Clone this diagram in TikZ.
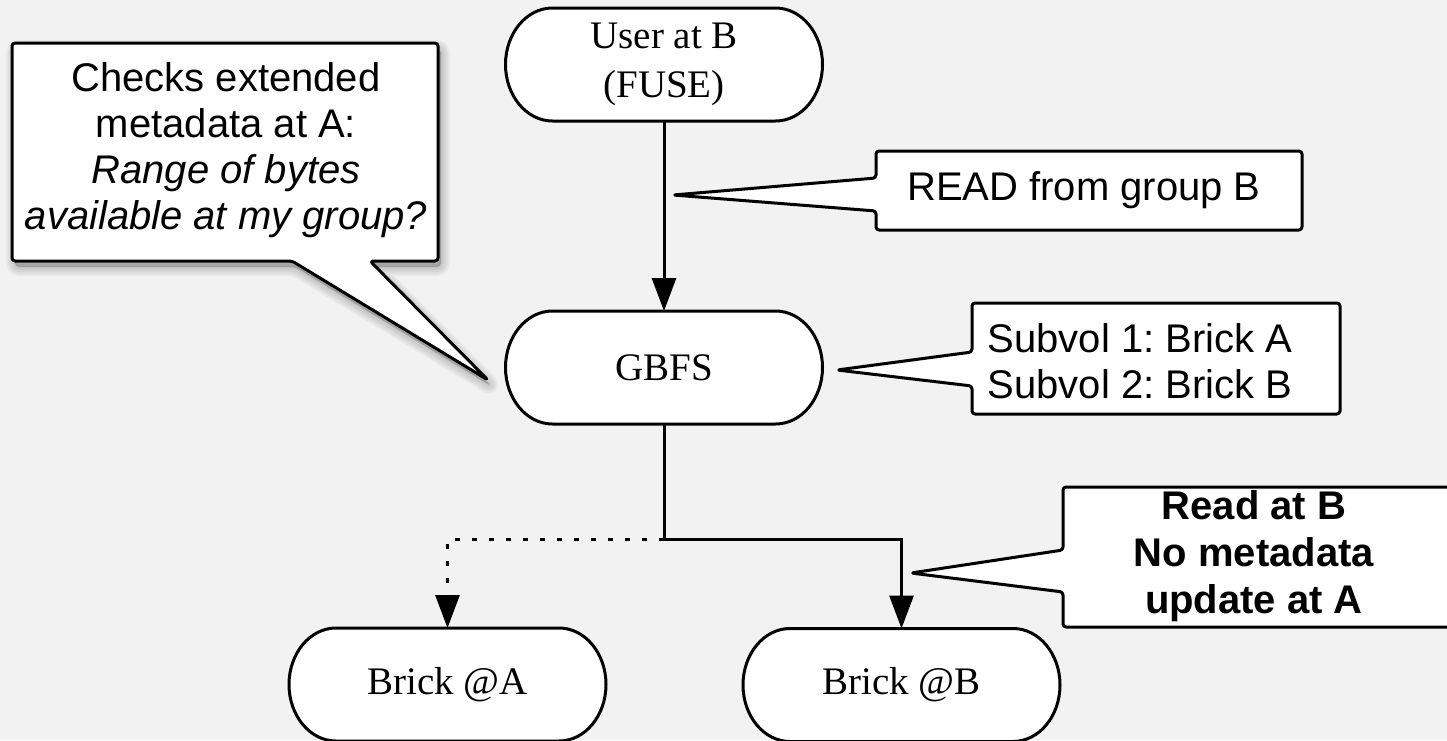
\documentclass[tikz,border=0pt]{standalone}
\usepackage{fontspec}
\setmainfont{Liberation Serif}
\newfontfamily\sansfont{Liberation Sans}
\usetikzlibrary{arrows.meta}
\pgfdeclarelayer{backdrop}
\pgfdeclarelayer{shapes}
\pgfsetlayers{backdrop,shapes,main}
\frenchspacing

\tikzset{
  conn/.style={line width=1.5pt, draw=black},
  arrowed/.style={conn, -{Triangle[length=16.5pt,width=12pt]}},
  dotline/.style={dash pattern=on 2.5pt off 6pt},
  pillnode/.style={minimum width=158.5pt, minimum height=56.5pt, inner sep=0pt,
    outer sep=0pt, align=center, font=\fontsize{19.5pt}{24.5pt}\selectfont},
  notetext/.style={align=center, inner sep=0pt,
    font=\sansfont\fontsize{20pt}{23pt}\selectfont},
  noteshape/.style={draw=black, line width=1.5pt, fill=white,
    rounded corners=1.5pt, line join=round},
}

% stadium outline with half-elliptic ends around a named node
\newcommand\pillshape[1]{%
  \begin{pgfonlayer}{shapes}
    \draw[line width=1.5pt, fill=white]
      ([xshift=23.5pt]#1.north west) -- ([xshift=-23.5pt]#1.north east)
      arc[start angle=90, end angle=-90, x radius=23.5pt, y radius=28.25pt]
      -- ([xshift=23.5pt]#1.south west)
      arc[start angle=270, end angle=90, x radius=23.5pt, y radius=28.25pt]
      -- cycle;
  \end{pgfonlayer}}

% outline of the speech bubble on the left
\newcommand\checksoutline{(12,43) -- (438,43) -- (438,261) -- (370,261) -- (488,380)
    -- (292,261) -- (12,261) -- cycle}

\begin{document}
\begin{tikzpicture}[x=0.5pt, y=-0.5pt]
  \useasboundingbox (0,0) rectangle (1447,740);
  \begin{pgfonlayer}{backdrop}
    \fill[black!5] (0,0) rectangle (1447,740);
  \end{pgfonlayer}
  \clip (0,0) rectangle (1447,740);

  % soft shadow under the left bubble
  \begin{scope}[xshift=1.5pt, yshift=-3pt]
    \foreach \w in {9,7,5,3,1}
      \path[fill=black, draw=black, opacity=0.04, line width=\w pt,
        line join=round, rounded corners=2pt] \checksoutline;
  \end{scope}

  % callout outlines
  \path[noteshape] \checksoutline;
  \path[noteshape]
    (876,151) -- (1302,151) -- (1302,230) -- (876,230) -- (876,211)
    -- (673,195) -- (876,178) -- cycle;
  \path[noteshape]
    (972,303) -- (1340,303) -- (1340,414) -- (972,414) -- (972,386)
    -- (837,370) -- (972,352) -- cycle;
  \path[noteshape]
    (1063,487) -- (1452,487) -- (1452,627) -- (1063,627) -- (1063,592)
    -- (911,573) -- (1063,550) -- cycle;

  % callout texts
  \node[notetext] (checks) at (226,150)
    {Checks extended\\metadata at A:\\\textit{Range of bytes}\\\textit{available at my group?}};
  \node[notetext] (readnote) at (1084,190) {READ from group B};
  \node[notetext, align=left] (subvol) at (1140,361) {Subvol 1: Brick A\\Subvol 2: Brick B};
  \node[notetext, font=\sansfont\bfseries\fontsize{20pt}{23.5pt}\selectfont] (readb) at (1254,556)
    {Read at B\\No metadata\\update at A};

  % flow nodes
  \node[pillnode] (user) at (664,64.5) {User at B\\(FUSE)};
  \node[pillnode] (gbfs) at (664,367.5) {GBFS};
  \node[pillnode] (bricka) at (447.5,684.5) {Brick @A};
  \node[pillnode] (brickb) at (901.5,685) {Brick @B};
  \pillshape{user}
  \pillshape{gbfs}
  \pillshape{bricka}
  \pillshape{brickb}

  % connectors
  \coordinate (split) at (664,539);
  \draw[arrowed] (user) -- (gbfs);
  \draw[conn] (gbfs) -- (split);
  \draw[arrowed] (split) -| (brickb);
  \draw[arrowed, dotline] (split) -| (bricka);
\end{tikzpicture}
\end{document}
